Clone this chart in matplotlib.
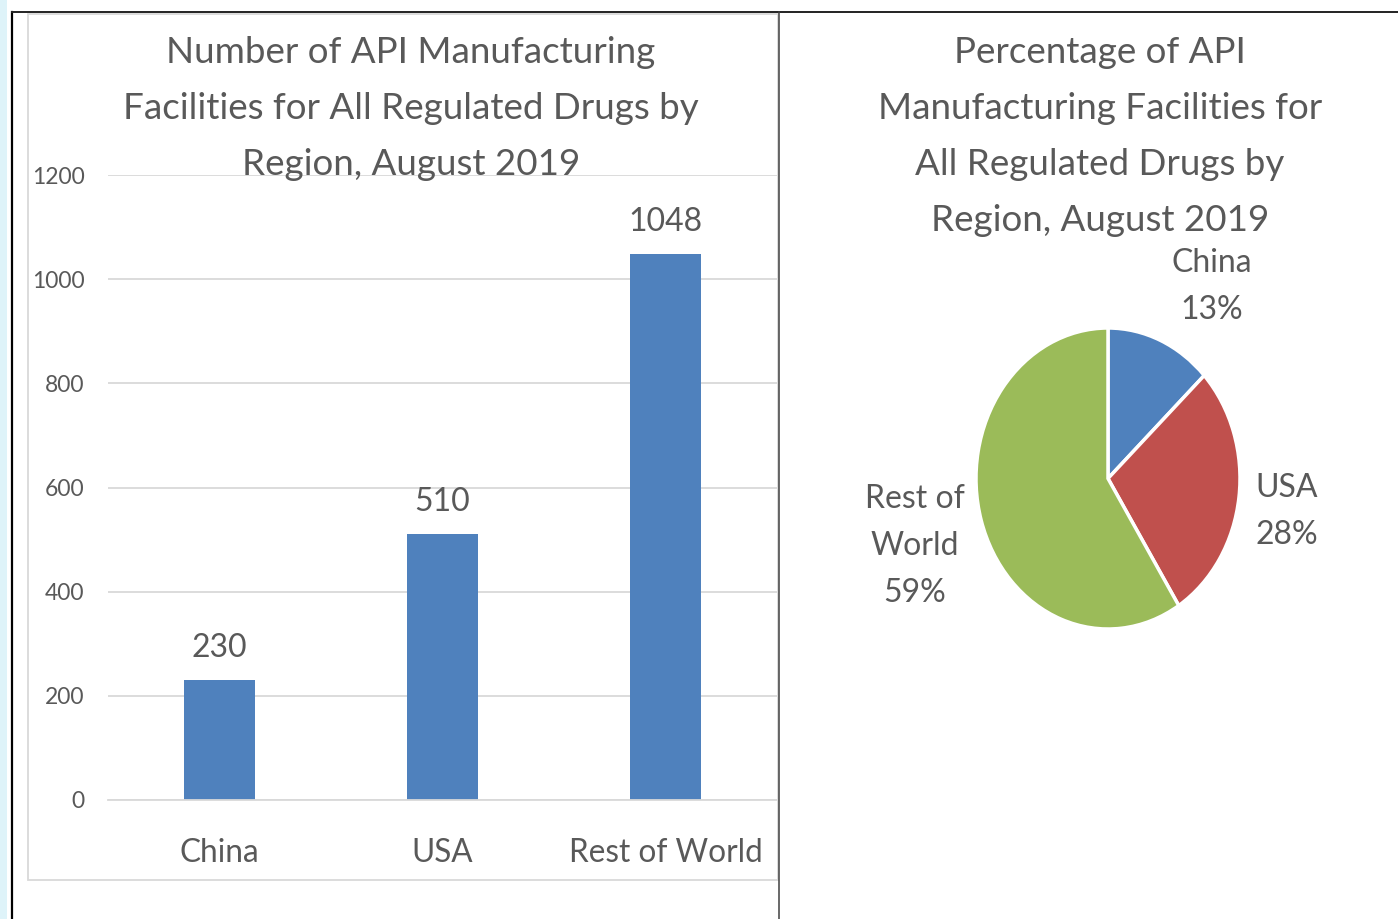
import matplotlib
matplotlib.use("Agg")
import matplotlib.pyplot as plt
from matplotlib.lines import Line2D
from matplotlib.patches import Rectangle

# ---- data ----
categories = ["China", "USA", "Rest of World"]
facilities = [230, 510, 1048]
y_ticks = [0, 200, 400, 600, 800, 1000, 1200]
pie_labels = ["China", "USA", "Rest of\nWorld"]
pie_pct = [13, 28, 59]
bar_title = ["Number of API Manufacturing", "Facilities for All Regulated Drugs by", "Region, August 2019"]
pie_title = ["Percentage of API", "Manufacturing Facilities for", "All Regulated Drugs by", "Region, August 2019"]

FONT = ["Lato", "DejaVu Sans"]
plt.rcParams["font.family"] = FONT
TXT = "#595959"
GRID = "#d9d9d9"
BLUE = "#4f81bd"
PIE_COLORS = ["#4f81bd", "#c0504d", "#9bbb59"]

W, H = 1398, 919
fig = plt.figure(figsize=(W / 100, H / 100), dpi=100)
fig.patch.set_facecolor("white")

def fx(x):
    return x / W

def fy(y):
    return 1 - y / H

# ---- frame decorations ----
fig.add_artist(Rectangle((0, 0), fx(7), 1, transform=fig.transFigure, color="#def3f9", lw=0, zorder=0))
fig.add_artist(Line2D([fx(12), fx(12)], [0, fy(12)], transform=fig.transFigure, color="black", lw=1.6))
fig.add_artist(Line2D([fx(12), 1], [fy(12), fy(12)], transform=fig.transFigure, color="#222222", lw=1.4))
fig.add_artist(Rectangle((fx(28), fy(880)), fx(778) - fx(28), fy(14) - fy(880), transform=fig.transFigure,
                         fill=False, edgecolor=GRID, lw=1.3))
fig.add_artist(Line2D([fx(779), fx(779)], [0, fy(12)], transform=fig.transFigure, color="#404040", lw=1.1))

# ---- bar chart ----
ax = fig.add_axes([fx(108), fy(800), fx(777) - fx(108), fy(175) - fy(800)])
x = list(range(len(categories)))
bars = ax.bar(x, facilities, width=0.315, color=BLUE, zorder=3)
ax.set_xlim(-0.5, 2.5)
ax.set_ylim(0, 1200)
ax.set_yticks(y_ticks)
ax.set_yticklabels([str(t) for t in y_ticks])
ax.set_xticks(x)
ax.set_xticklabels(categories)
ax.grid(axis="y", color=GRID, lw=1.3, zorder=0)
for s in ["top", "right", "left"]:
    ax.spines[s].set_visible(False)
ax.spines["bottom"].set_color(GRID)
ax.spines["bottom"].set_linewidth(1.3)
ax.spines["bottom"].set_zorder(4)
ax.tick_params(axis="y", length=0, pad=17, labelsize=16.5, labelcolor=TXT)
ax.tick_params(axis="x", length=0, pad=27, labelsize=22.7, labelcolor=TXT)
for xi, v in zip(x, facilities):
    ax.annotate(str(v), (xi, v), xytext=(0, 17), textcoords="offset points",
                ha="center", va="baseline", fontsize=23, color=TXT)

# titles
for i, line in enumerate(bar_title):
    fig.text(fx(411), fy(63 + 56 * i), line, ha="center", va="baseline", fontsize=26.5, color=TXT)
for i, line in enumerate(pie_title):
    fig.text(fx(1100), fy(63 + 56 * i), line, ha="center", va="baseline", fontsize=26.5, color=TXT)

# ---- pie chart ----
pax = fig.add_axes([fx(976), fy(629), fx(1240) - fx(976), fy(328) - fy(629)])
pax.pie(pie_pct, colors=PIE_COLORS, startangle=90, counterclock=False, radius=1,
        wedgeprops=dict(edgecolor="white", linewidth=2.5))
pax.set_aspect("auto")
pax.set_xlim(-1.0, 1.0)
pax.set_ylim(-1.0, 1.0)
pax.axis("off")

label_pos = [(1212, 272), (1287, 497), (915, 508)]
for (px, py), lab, p in zip(label_pos, pie_labels, pie_pct):
    lines = lab.split("\n") + [f"{p}%"]
    for j, ln in enumerate(lines):
        fig.text(fx(px), fy(py + 47 * j), ln, ha="center", va="baseline", fontsize=23, color=TXT)

fig.savefig("out.png", dpi=100)
